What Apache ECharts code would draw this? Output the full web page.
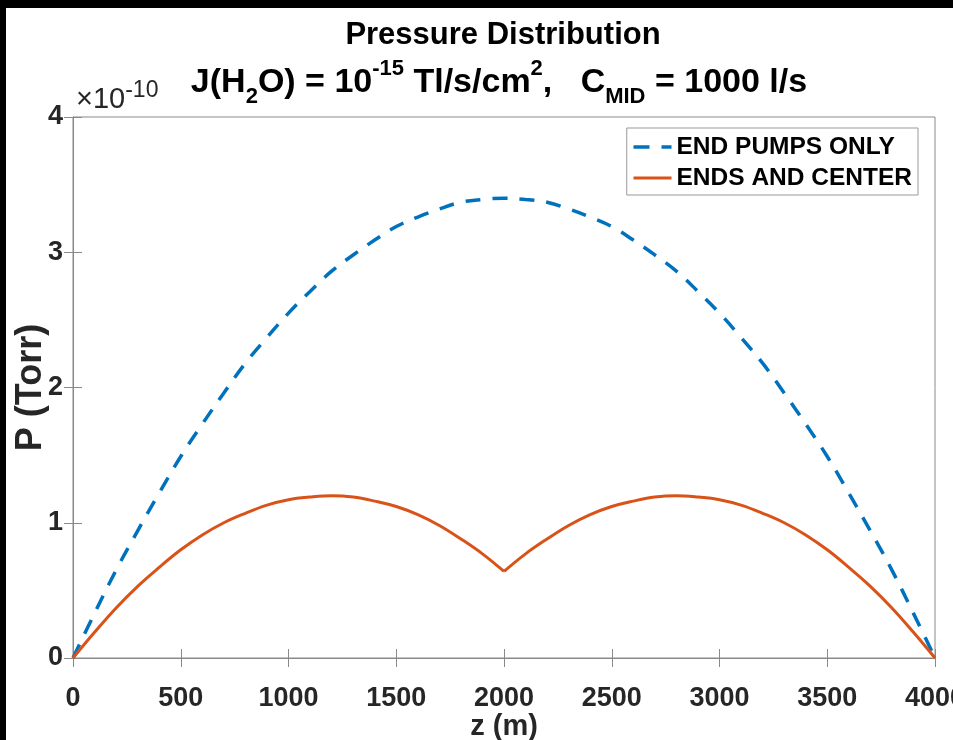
<!DOCTYPE html>
<html>
<head>
<meta charset="utf-8">
<script src="https://cdn.jsdelivr.net/npm/echarts@6/dist/echarts.min.js"></script>
<style>
  html, body { margin: 0; padding: 0; background: #fff; }
  #chart { width: 953px; height: 740px; }
</style>
</head>
<body>
<div id="chart"></div>
<script>
// Position along the beamline (m)
const zPositions = [
  0, 100, 200, 300, 400, 500, 600, 700, 800, 900,
  1000, 1100, 1200, 1300, 1400, 1500, 1600, 1700, 1800, 1900,
  2000, 2100, 2200, 2300, 2400, 2500, 2600, 2700, 2800, 2900,
  3000, 3100, 3200, 3300, 3400, 3500, 3600, 3700, 3800, 3900, 4000
];

// Pressure in units of 1e-10 Torr, pumps at both ends only
const endPumpsOnly = [
  0, 0.33, 0.65, 0.94, 1.22, 1.49, 1.73, 1.96, 2.18, 2.37,
  2.55, 2.71, 2.86, 2.98, 3.09, 3.19, 3.26, 3.32, 3.37, 3.39,
  3.40, 3.39, 3.37, 3.32, 3.26, 3.19, 3.09, 2.98, 2.86, 2.71,
  2.55, 2.37, 2.18, 1.96, 1.73, 1.49, 1.22, 0.94, 0.65, 0.33, 0
];

// Pressure in units of 1e-10 Torr, pumps at both ends plus the centre
const endsAndCenter = [
  0, 0.19, 0.37, 0.53, 0.67, 0.80, 0.91, 1.00, 1.07, 1.13,
  1.17, 1.19, 1.20, 1.19, 1.16, 1.12, 1.06, 0.98, 0.88, 0.77,
  0.64, 0.77, 0.88, 0.98, 1.06, 1.12, 1.16, 1.19, 1.20, 1.19,
  1.17, 1.13, 1.07, 1.00, 0.91, 0.80, 0.67, 0.53, 0.37, 0.19, 0
];

const seriesNames = ['END PUMPS ONLY', 'ENDS AND CENTER'];
const xTicks = { min: 0, max: 4000, interval: 500 };
const yTicks = { min: 0, max: 4, interval: 1 };

const FONT = '"Liberation Sans", Arial, Helvetica, sans-serif';
const AXIS_COLOR = '#8a8a8a';
const TEXT_COLOR = '#262626';
const BLUE = '#0072BD';
const ORANGE = '#D95319';
const DASH = [15, 12];

const pairs = (ys) => zPositions.map((z, i) => [z, ys[i]]);
// the centre pump makes a cusp at the midpoint, so each half is smoothed on its own
const midIndex = zPositions.indexOf(2000);
const centerLeft = pairs(endsAndCenter).slice(0, midIndex + 1);
const centerRight = pairs(endsAndCenter).slice(midIndex);

const chart = echarts.init(document.getElementById('chart'), null, { renderer: 'canvas' });

const sup = { fontSize: 22, fontWeight: 'bold', fontFamily: FONT, color: '#000', lineHeight: 20, verticalAlign: 'top' };
const sub = { fontSize: 22, fontWeight: 'bold', fontFamily: FONT, color: '#000', lineHeight: 20, verticalAlign: 'bottom' };

const plainNumber = (v) => String(v);
const TITLE_CENTER_X = 498;

const option = {
  backgroundColor: '#fff',
  animation: false,
  title: [
    {
      text: 'Pressure Distribution',
      left: TITLE_CENTER_X, textAlign: 'center', top: 15,
      textStyle: { fontFamily: FONT, fontSize: 31, fontWeight: 'bold', color: '#000' }
    },
    {
      text: '{b|J(H}{sub|2}{b|O) = 10}{sup|-15}{b| Tl/s/cm}{sup|2}{b|,   C}{sub|MID}{b| = 1000 l/s}',
      left: TITLE_CENTER_X - 4, textAlign: 'center', top: 53,
      textStyle: {
        rich: {
          b: { fontSize: 34, fontWeight: 'bold', fontFamily: FONT, color: '#000', lineHeight: 50, verticalAlign: 'middle' },
          sup: sup,
          sub: sub
        }
      }
    }
  ],
  graphic: [
    { type: 'rect', shape: { x: 0, y: 0, width: 953, height: 8 }, style: { fill: '#000' }, z: 100 },
    { type: 'rect', shape: { x: 0, y: 0, width: 6, height: 740 }, style: { fill: '#000' }, z: 100 },
    {
      type: 'text', left: 76, top: 79,
      style: {
        text: '{m|×10}{e|-10}',
        rich: {
          m: { fontSize: 29, fontFamily: FONT, fill: TEXT_COLOR, lineHeight: 35, verticalAlign: 'bottom' },
          e: { fontSize: 23, fontFamily: FONT, fill: TEXT_COLOR, lineHeight: 20, verticalAlign: 'top' }
        }
      }
    }
  ],
  legend: {
    orient: 'vertical',
    right: 35, top: 128,
    padding: [6, 6, 4, 5],
    itemGap: 5,
    itemWidth: 38, itemHeight: 14,
    backgroundColor: '#fff',
    borderColor: '#999', borderWidth: 1,
    itemStyle: { opacity: 0, borderWidth: 0 },
    data: [
      { name: seriesNames[0], lineStyle: { type: [16, 12], width: 3.5 } },
      { name: seriesNames[1], lineStyle: { width: 3 } }
    ],
    textStyle: { fontFamily: FONT, fontSize: 24.5, lineHeight: 26, fontWeight: 'bold', color: '#000' }
  },
  grid: {
    left: 73, right: 18, top: 117, bottom: 82,
    outerBoundsMode: 'none',
    show: true, borderColor: AXIS_COLOR, borderWidth: 1
  },
  xAxis: [
    {
      type: 'value', position: 'bottom',
      min: xTicks.min, max: xTicks.max, interval: xTicks.interval,
      name: 'z (m)', nameLocation: 'middle', nameGap: 54, nameMoveOverlap: false,
      nameTextStyle: { fontFamily: FONT, fontSize: 29, fontWeight: 'bold', color: TEXT_COLOR },
      axisLine: { show: true, onZero: false, lineStyle: { color: AXIS_COLOR, width: 1 } },
      axisTick: { show: true, inside: true, length: 9, lineStyle: { color: AXIS_COLOR } },
      axisLabel: { margin: 27, fontFamily: FONT, fontSize: 27, fontWeight: 'bold', color: TEXT_COLOR, formatter: plainNumber },
      splitLine: { show: false }
    },
    {
      type: 'value', position: 'top',
      min: xTicks.min, max: xTicks.max, interval: xTicks.interval,
      axisLine: { show: true, lineStyle: { color: AXIS_COLOR, width: 1 } },
      axisTick: { show: true, inside: true, length: 9, lineStyle: { color: AXIS_COLOR } },
      axisLabel: { show: false },
      splitLine: { show: false }
    }
  ],
  yAxis: [
    {
      type: 'value', position: 'left',
      min: yTicks.min, max: yTicks.max, interval: yTicks.interval,
      name: 'P (Torr)', nameLocation: 'middle', nameGap: 24, nameMoveOverlap: false,
      nameTextStyle: { fontFamily: FONT, fontSize: 36, fontWeight: 'bold', color: TEXT_COLOR },
      axisLine: { show: true, onZero: false, lineStyle: { color: AXIS_COLOR, width: 1 } },
      axisTick: { show: true, inside: true, length: 9, lineStyle: { color: AXIS_COLOR } },
      axisLabel: { margin: 10, fontFamily: FONT, fontSize: 27, fontWeight: 'bold', color: TEXT_COLOR, formatter: plainNumber },
      splitLine: { show: false }
    },
    {
      type: 'value', position: 'right',
      min: yTicks.min, max: yTicks.max, interval: yTicks.interval,
      axisLine: { show: true, lineStyle: { color: AXIS_COLOR, width: 1 } },
      axisTick: { show: true, inside: true, length: 9, lineStyle: { color: AXIS_COLOR } },
      axisLabel: { show: false },
      splitLine: { show: false }
    }
  ],
  series: [
    {
      name: seriesNames[0], type: 'line', xAxisIndex: 0, yAxisIndex: 0,
      data: pairs(endPumpsOnly), showSymbol: false, symbol: 'none',
      smooth: 0.4,
      color: BLUE,
      lineStyle: { color: BLUE, width: 3.5, type: DASH }
    },
    {
      name: seriesNames[1], type: 'line', xAxisIndex: 0, yAxisIndex: 0,
      data: centerLeft, showSymbol: false, symbol: 'none',
      smooth: 0.4,
      color: ORANGE,
      lineStyle: { color: ORANGE, width: 3 }
    },
    {
      name: seriesNames[1], type: 'line', xAxisIndex: 0, yAxisIndex: 0,
      data: centerRight, showSymbol: false, symbol: 'none',
      smooth: 0.4,
      color: ORANGE,
      lineStyle: { color: ORANGE, width: 3 }
    }
  ]
};

chart.setOption(option);
</script>
</body>
</html>
